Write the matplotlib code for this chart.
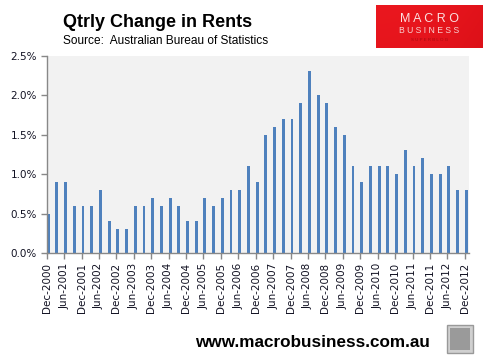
import matplotlib
matplotlib.use("Agg")
import matplotlib.pyplot as plt
from matplotlib.patches import Rectangle
import numpy as np

quarters = [
    "Dec-2000", "Mar-2001", "Jun-2001", "Sep-2001", "Dec-2001", "Mar-2002", "Jun-2002", "Sep-2002",
    "Dec-2002", "Mar-2003", "Jun-2003", "Sep-2003", "Dec-2003", "Mar-2004", "Jun-2004", "Sep-2004",
    "Dec-2004", "Mar-2005", "Jun-2005", "Sep-2005", "Dec-2005", "Mar-2006", "Jun-2006", "Sep-2006",
    "Dec-2006", "Mar-2007", "Jun-2007", "Sep-2007", "Dec-2007", "Mar-2008", "Jun-2008", "Sep-2008",
    "Dec-2008", "Mar-2009", "Jun-2009", "Sep-2009", "Dec-2009", "Mar-2010", "Jun-2010", "Sep-2010",
    "Dec-2010", "Mar-2011", "Jun-2011", "Sep-2011", "Dec-2011", "Mar-2012", "Jun-2012", "Sep-2012",
    "Dec-2012",
]
rent_change = [
    0.5, 0.9, 0.9, 0.6, 0.6, 0.6, 0.8, 0.4,
    0.3, 0.3, 0.6, 0.6, 0.7, 0.6, 0.7, 0.6,
    0.4, 0.4, 0.7, 0.6, 0.7, 0.8, 0.8, 1.1,
    0.9, 1.5, 1.6, 1.7, 1.7, 1.9, 2.3, 2.0,
    1.9, 1.6, 1.5, 1.1, 0.9, 1.1, 1.1, 1.1,
    1.0, 1.3, 1.1, 1.2, 1.0, 1.0, 1.1, 0.8,
    0.8,
]
y_ticks = [0.0, 0.5, 1.0, 1.5, 2.0, 2.5]

W, H = 483, 362
fig = plt.figure(figsize=(W / 100, H / 100), dpi=100)
fig.patch.set_facecolor("white")

ax = fig.add_axes([46.7 / W, 1 - 253 / H, (469 - 46.7) / W, (253 - 55.7) / H])
ax.set_facecolor("#F2F2F2")

x = np.arange(len(quarters))
ax.bar(x, rent_change, width=0.33, align="edge", color="#4F81BD", zorder=2)

ax.set_xlim(0, (469 - 46.7) / 8.71)
ax.set_ylim(0, 2.5)
ax.set_yticks(y_ticks)
ax.set_yticklabels([f"{v:.1f}%" for v in y_ticks])
ax.set_xticks(x[::2])
ax.set_xticklabels(quarters[::2], rotation=90)

for s in ["top", "right"]:
    ax.spines[s].set_visible(False)
for s in ["left", "bottom"]:
    ax.spines[s].set_color("#888888")
    ax.spines[s].set_linewidth(1.0)
ax.tick_params(axis="both", direction="out", length=4, width=1, color="#888888",
               labelsize=7.5, labelcolor="#111122")
ax.tick_params(axis="y", pad=3)
ax.tick_params(axis="x", pad=3)

# Title and source
fig.text(63 / W, 1 - 26.7 / H, "Qtrly Change in Rents", fontsize=13, fontweight="bold",
         family="Liberation Sans", va="baseline", ha="left", color="black")
fig.text(63 / W, 1 - 44.3 / H, "Source:  Australian Bureau of Statistics", fontsize=8.6,
         family="Liberation Sans", va="baseline", ha="left", color="black")

# Logo box with gradient
lax = fig.add_axes([376 / W, 1 - 48 / H, (483 - 376) / W, 43 / H])
lax.set_axis_off()
gx = np.linspace(0, 1, 120)
gy = np.linspace(0, 1, 50)
GX, GY = np.meshgrid(gx, gy)
shade = 0.25 * GX ** 2 + 0.12 * GY
img = np.zeros((50, 120, 3))
img[..., 0] = 0.92 - 0.15 * shade
img[..., 1] = 0.09 - 0.07 * shade
img[..., 2] = 0.12 - 0.07 * shade
lax.imshow(img, aspect="auto", extent=(0, 1, 0, 1), origin="upper")
lax.set_xlim(0, 1)
lax.set_ylim(0, 1)

fig.text(429.5 / W, 1 - 22 / H, "M A C R O", fontsize=9, family="Liberation Sans",
         color="#FBE0E0", ha="center", va="baseline")
fig.text(429.5 / W, 1 - 33 / H, "B U S I N E S S", fontsize=6.2, family="Liberation Sans",
         color="#F8D0D0", ha="center", va="baseline")
fig.text(429.5 / W, 1 - 41 / H, "S U P E R B L O G", fontsize=3.2, family="Liberation Sans",
         color="#A50A10", ha="center", va="baseline")

# Footer
fig.text(430 / W, 1 - 347 / H, "www.macrobusiness.com.au", fontsize=12.3, fontweight="bold",
         family="Liberation Sans", ha="right", va="baseline", color="black")

# Fox picture placeholder
fig.patches.append(Rectangle((447 / W, 1 - 353 / H), 26 / W, 28 / H, transform=fig.transFigure,
                             facecolor="#D0D0D0", edgecolor="#999999", linewidth=1))
fig.patches.append(Rectangle((450 / W, 1 - 350 / H), 20 / W, 22 / H, transform=fig.transFigure,
                             facecolor="#9A9A9A", edgecolor="none"))

fig.savefig("out.png", dpi=100, facecolor="white")
